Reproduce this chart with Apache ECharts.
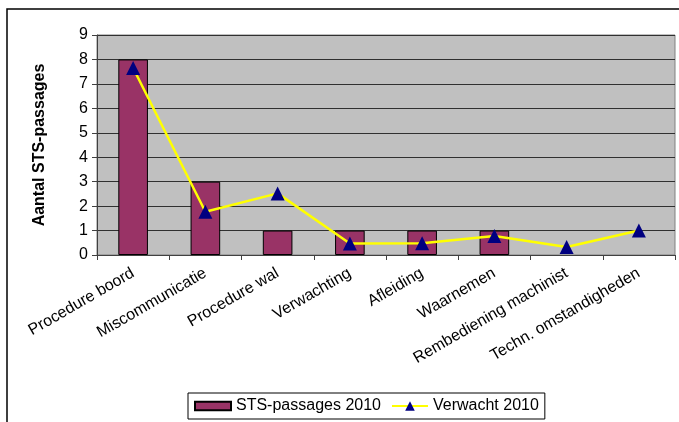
<!DOCTYPE html>
<html>
<head>
<meta charset="utf-8">
<script src="https://cdn.jsdelivr.net/npm/echarts@6/dist/echarts.min.js"></script>
<style>html,body{margin:0;padding:0;background:#fff;}#c{width:679px;height:422px;}</style>
</head>
<body>
<div id="c"></div>
<script>
const categories = ['Procedure boord','Miscommunicatie','Procedure wal','Verwachting','Afleiding','Waarnemen','Rembediening machinist','Techn. omstandigheden'];
const stsPassages2010 = [8, 3, 1, 1, 1, 1, 0, 0];
const verwacht2010 = [7.65, 1.77, 2.52, 0.47, 0.48, 0.78, 0.33, 1.0];
const yTicks = { min: 0, max: 9, interval: 1 };

const chart = echarts.init(document.getElementById('c'), null, {renderer: 'canvas'});
const font = 'Liberation Sans, Arial, sans-serif';
chart.setOption({
  animation: false,
  backgroundColor: '#fff',
  textStyle: { fontFamily: font },
  graphic: [{
    type: 'rect', z: -10, silent: true,
    shape: { x: 7, y: 9, width: 800, height: 600 },
    style: { fill: 'none', stroke: '#000', lineWidth: 1.5 }
  }],
  grid: {
    left: 97, right: 4, top: 35, bottom: 167,
    show: true, backgroundColor: '#C0C0C0', borderColor: '#808080', borderWidth: 1
  },
  legend: {
    left: 188, top: 393,
    backgroundColor: '#fff', borderColor: '#000', borderWidth: 1,
    padding: [5, 6, 5, 6], itemGap: 10,
    itemWidth: 36, itemHeight: 12,
    textStyle: { fontSize: 16, color: '#000', fontFamily: font },
    data: [
      { name: 'STS-passages 2010', icon: 'path://M0,0h34v8h-34z' },
      { name: 'Verwacht 2010' }
    ]
  },
  xAxis: {
    type: 'category', data: categories,
    axisLine: { lineStyle: { color: '#404040', width: 1 } },
    axisTick: { show: true, length: 5, lineStyle: { color: '#404040' } },
    axisLabel: { rotate: 30, fontSize: 16, color: '#000', margin: 17, interval: 0, fontFamily: font },
    splitLine: { show: false }
  },
  yAxis: {
    type: 'value', min: yTicks.min, max: yTicks.max, interval: yTicks.interval,
    name: 'Aantal STS-passages', nameLocation: 'middle', nameGap: 49,
    nameTextStyle: { fontSize: 16, fontWeight: 'bold', color: '#000', fontFamily: font },
    axisLine: { show: true, lineStyle: { color: '#404040', width: 1 } },
    axisTick: { show: true, length: 5, lineStyle: { color: '#404040' } },
    axisLabel: { fontSize: 16, color: '#000', margin: 9, fontFamily: font },
    splitLine: { show: true, lineStyle: { color: '#303030', width: 1 } }
  },
  series: [
    {
      name: 'STS-passages 2010', type: 'bar',
      data: stsPassages2010.map(v => v === 0 ? { value: v, itemStyle: { borderWidth: 0 } } : v),
      barWidth: '41%',
      itemStyle: { color: '#993366', borderColor: '#000', borderWidth: 1 }
    },
    {
      name: 'Verwacht 2010', type: 'line', data: verwacht2010,
      symbol: 'triangle', symbolSize: 14,
      lineStyle: { color: '#FFFF00', width: 2.5 },
      itemStyle: { color: '#000080' }
    }
  ]
});
</script>
</body>
</html>
